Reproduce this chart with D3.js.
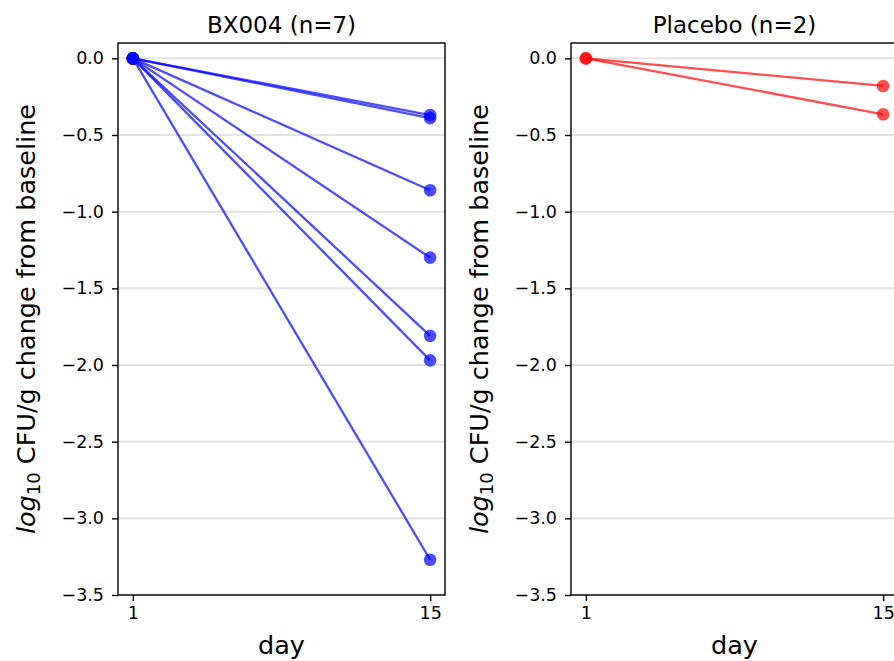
<!DOCTYPE html>
<html><head><meta charset="utf-8">
<script src="https://cdn.jsdelivr.net/npm/d3@7"></script>
<style>body{margin:0;background:#fff;} text{font-family:"DejaVu Sans",sans-serif;}</style>
</head><body><svg id="c" width="894" height="661"></svg>
<script>
const days = [1, 15];
const bxTitle = "BX004 (n=7)";
const bxDay15 = [-0.37, -0.39, -0.86, -1.30, -1.81, -1.97, -3.27];
const plTitle = "Placebo (n=2)";
const plDay15 = [-0.18, -0.365];
const yTicks = [0.0, -0.5, -1.0, -1.5, -2.0, -2.5, -3.0, -3.5];

const svg = d3.select("#c");
const W = 327, plotTop = 43, plotBottom = 595;
const y = d3.scaleLinear().domain([-3.5, 0.1]).range([plotBottom, plotTop]);

function panel(x0, title, vals, color, axisLabelX) {
  const x = d3.scaleLinear().domain([0.3, 15.7]).range([x0, x0 + W]);
  const g = svg.append("g");
  // grid
  g.selectAll("line.grid").data(yTicks).enter().append("line")
    .attr("x1", x0).attr("x2", x0 + W)
    .attr("y1", d => y(d)).attr("y2", d => y(d))
    .attr("stroke", "#e3e3e3").attr("stroke-width", 2);
  // lines
  vals.forEach(v => {
    const pts = [[days[0], 0], [days[1], v]];
    g.append("path").datum(pts)
      .attr("d", d3.line().x(d => x(d[0])).y(d => y(d[1])))
      .attr("fill", "none").attr("stroke", color).attr("stroke-opacity", 0.7).attr("stroke-width", 2.3);
    g.selectAll(null).data(pts).enter().append("circle")
      .attr("cx", d => x(d[0])).attr("cy", d => y(d[1])).attr("r", 6.3)
      .attr("fill", color).attr("fill-opacity", 0.7);
  });
  // frame
  g.append("rect").attr("x", x0).attr("y", plotTop).attr("width", W).attr("height", plotBottom - plotTop)
    .attr("fill", "none").attr("stroke", "#000").attr("stroke-width", 1.4);
  // y axis
  const ya = g.append("g").attr("transform", `translate(${x0},0)`)
    .call(d3.axisLeft(y).tickValues(yTicks).tickFormat(d3.format(".1f")).tickSize(6).tickPadding(8));
  ya.select(".domain").remove();
  ya.selectAll("text").attr("font-size", 17.5).attr("fill", "#000").style("font-family", "DejaVu Sans");
  ya.selectAll("line").attr("stroke", "#000").attr("stroke-width", 1.4);
  // x axis
  const xa = g.append("g").attr("transform", `translate(0,${plotBottom})`)
    .call(d3.axisBottom(x).tickValues(days).tickFormat(d3.format("d")).tickSize(6).tickPadding(6));
  xa.select(".domain").remove();
  xa.selectAll("text").attr("font-size", 17.5).attr("fill", "#000").style("font-family", "DejaVu Sans");
  xa.selectAll("line").attr("stroke", "#000").attr("stroke-width", 1.4);
  // title
  g.append("text").attr("x", x0 + W / 2).attr("y", 32.5).attr("text-anchor", "middle")
    .attr("font-size", 23).text(title);
  // xlabel
  g.append("text").attr("x", x0 + W / 2).attr("y", 654).attr("text-anchor", "middle")
    .attr("font-size", 25.5).text("day");
  // ylabel
  const yl = g.append("text").attr("transform", `translate(${axisLabelX},${(plotTop + plotBottom) / 2}) rotate(-90)`)
    .attr("text-anchor", "middle").attr("font-size", 25.5);
  yl.append("tspan").attr("font-style", "italic").text("log");
  yl.append("tspan").attr("font-size", 18).attr("dy", 5).text("10");
  yl.append("tspan").attr("dy", -5).text(" CFU/g change from baseline");
}

panel(118, bxTitle, bxDay15, "#0000ff", 35);
panel(571, plTitle, plDay15, "#ff0000", 488);
</script></body></html>
